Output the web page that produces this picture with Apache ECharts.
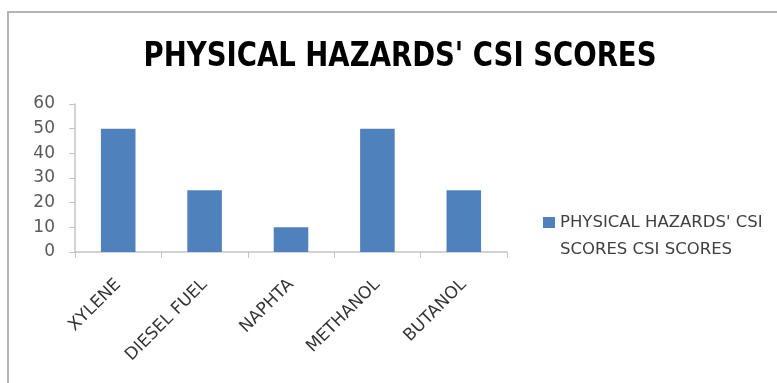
<!DOCTYPE html>
<html>
<head>
<meta charset="utf-8">
<script src="https://cdn.jsdelivr.net/npm/echarts@6/dist/echarts.min.js"></script>
<style>
  html, body { margin: 0; padding: 0; background: #fff; }
  #chart { width: 777px; height: 383px; }
</style>
</head>
<body>
<div id="chart"></div>
<script>
// Chemicals and their physical-hazard CSI scores
const categories = ['XYLENE', 'DIESEL FUEL', 'NAPHTA', 'METHANOL', 'BUTANOL'];
const scores = [50, 25, 10, 50, 25];
const seriesName = "PHYSICAL HAZARDS' CSI SCORES CSI SCORES";
const chartTitle = "PHYSICAL HAZARDS' CSI SCORES";
const yTicks = { min: 0, max: 60, interval: 10 };

const narrow = "'DejaVu Sans Condensed', 'DejaVu Sans', sans-serif";
const wide = "'DejaVu Sans', sans-serif";

const chart = echarts.init(document.getElementById('chart'));
chart.setOption({
  animation: false,
  backgroundColor: '#fff',
  graphic: [{
    type: 'rect',
    shape: { x: 8, y: 12, width: 800, height: 400 },
    style: { fill: 'none', stroke: '#b4b4b4', lineWidth: 2 },
    silent: true
  }, {
    // bold heading, squeezed horizontally
    type: 'text',
    x: 400, y: 57,
    scaleX: 0.9,
    style: {
      text: chartTitle,
      align: 'center', verticalAlign: 'middle',
      fontFamily: narrow, fontWeight: 'bold', fontSize: 34, fill: '#000'
    },
    silent: true
  }],
  legend: {
    data: [seriesName],
    left: 538,
    top: 177,
    orient: 'vertical',
    itemWidth: 12,
    itemHeight: 11,
    icon: 'rect',
    // leading blank line keeps the swatch level with the first text line
    formatter: name => '\n' + name.replace("CSI SCORES CSI", "CSI\nSCORES CSI"),
    textStyle: { fontFamily: wide, fontSize: 16.5, color: '#404040', lineHeight: 27 }
  },
  grid: { left: 75, right: 270, top: 104, bottom: 131 },
  xAxis: {
    type: 'category',
    data: categories,
    axisLine: { lineStyle: { color: '#c4c4c4', width: 1.5 } },
    axisTick: { show: true, length: 6, lineStyle: { color: '#c4c4c4' } },
    axisLabel: {
      rotate: 45, margin: 30, interval: 0,
      fontFamily: wide, fontSize: 17, color: '#333'
    }
  },
  yAxis: {
    type: 'value',
    min: yTicks.min, max: yTicks.max, interval: yTicks.interval,
    splitLine: { show: false },
    axisLine: { show: true, lineStyle: { color: '#c4c4c4', width: 1.5 } },
    axisTick: { show: true, length: 6, lineStyle: { color: '#c4c4c4' } },
    axisLabel: { margin: 20, fontFamily: wide, fontSize: 17, color: '#595959' }
  },
  series: [{
    name: seriesName,
    type: 'bar',
    data: scores,
    barWidth: '40%',
    itemStyle: { color: '#4f81bd' }
  }]
});
</script>
</body>
</html>
